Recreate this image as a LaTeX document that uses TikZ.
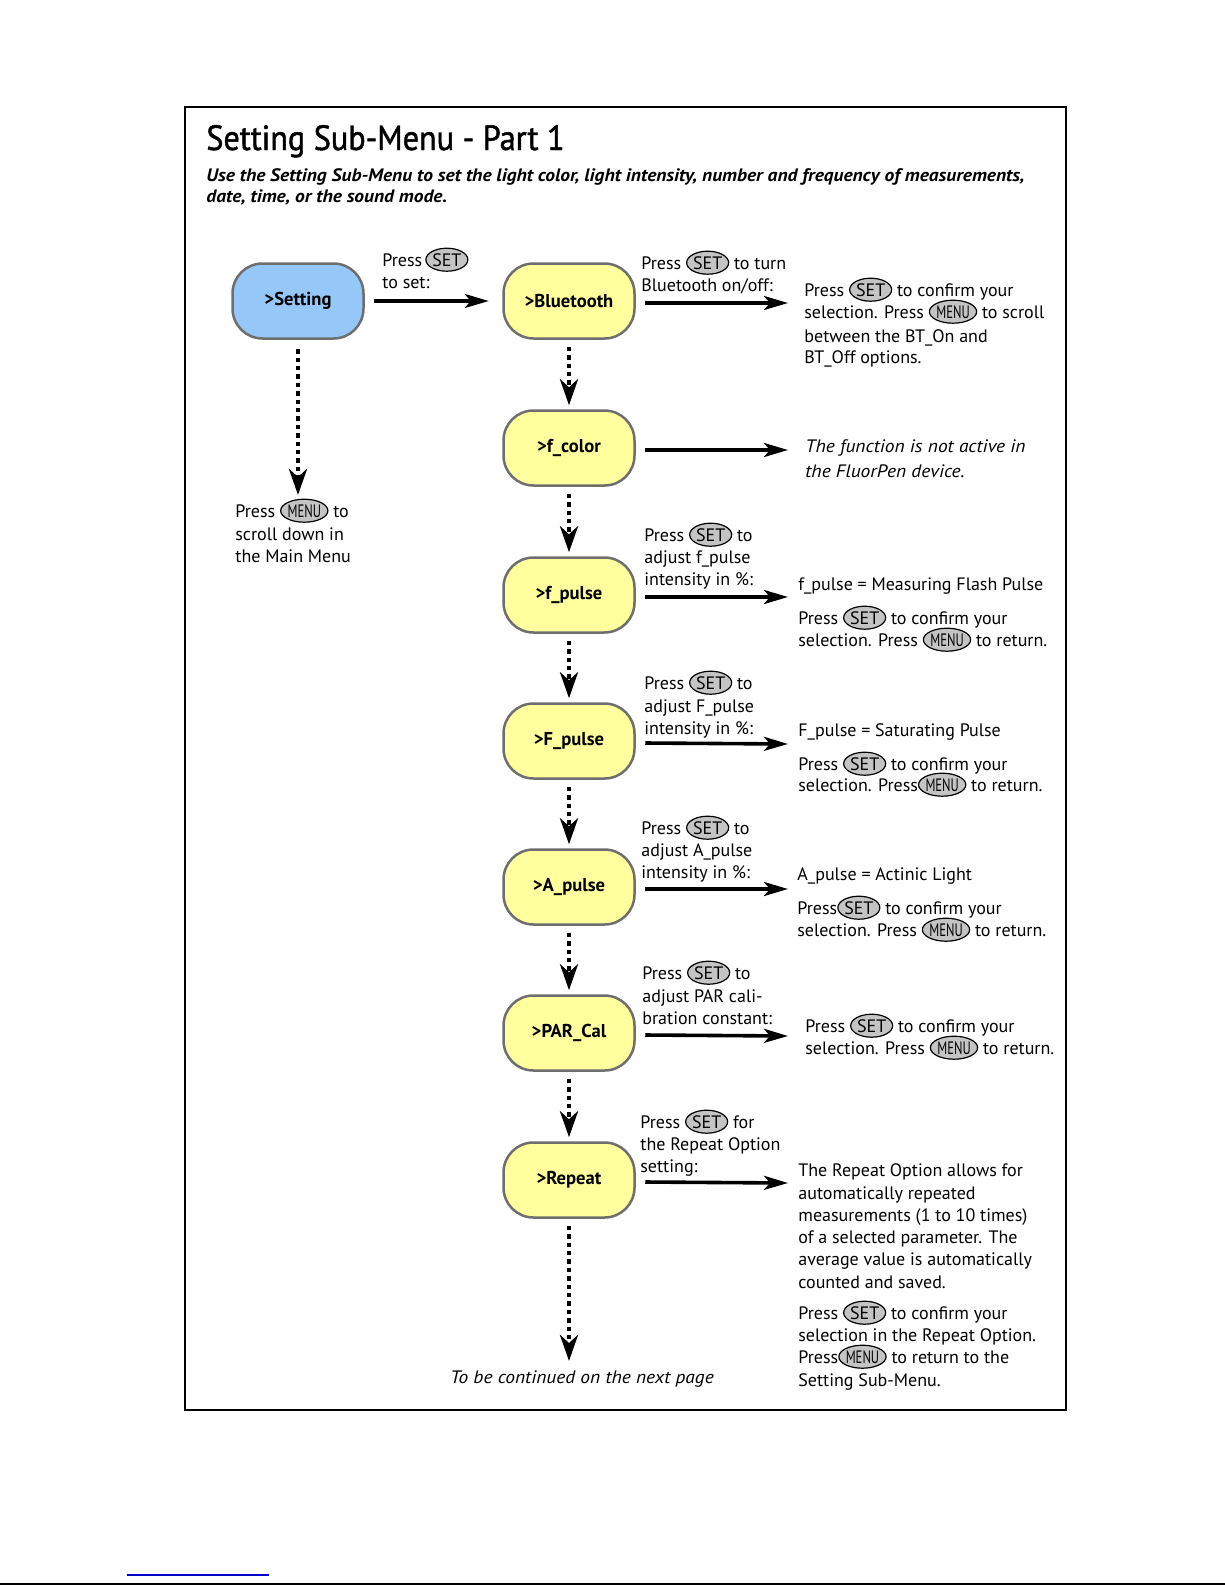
\documentclass[tikz,border=0pt]{standalone}
\usepackage{fontspec}
\usepackage{graphicx}
\setmainfont{PT Sans}
\newfontfamily\titlefont[FakeStretch=0.92,FakeBold=1.3]{PT Sans}
\newfontfamily\widefont[FakeStretch=1.08]{PT Sans}
\usetikzlibrary{arrows.meta,shapes.geometric}
\definecolor{nodeblue}{HTML}{95C8F8}
\definecolor{nodeyellow}{HTML}{FFFF9E}
\definecolor{outlinegray}{HTML}{6E6E6E}
\definecolor{btngray}{HTML}{C4C4C4}
\definecolor{linkblue}{HTML}{0000CC}
\tikzset{
 menunode/.style={rectangle, rounded corners=15pt, draw=outlinegray, line width=1.25pt, minimum width=65.5pt, minimum height=37.5pt, font=\fontsize{9.3}{11}\selectfont\bfseries, inner sep=0pt},
 bluenode/.style={menunode, fill=nodeblue},
 yellownode/.style={menunode, fill=nodeyellow},
 txt/.style={anchor=base west, inner sep=0pt, font=\fontsize{9}{11}\selectfont},
 itxt/.style={txt, font=\widefont\fontsize{9}{11}\selectfont\itshape},
 subtxt/.style={txt, font=\widefont\fontsize{9}{11}\selectfont\bfseries\itshape},
 btn/.style={ellipse, draw=black, line width=0.6pt, fill=btngray, minimum width=21pt, minimum height=11.5pt, inner sep=0pt, anchor=center, font=\fontsize{9}{11}\selectfont},
 harrow/.style={line width=1.8pt, -{Stealth[length=12pt,width=7pt,inset=3pt]}},
 varrow/.style={line width=2.2pt, dash pattern=on 2.2pt off 2pt, -{Stealth[length=13pt,width=9pt,inset=4pt]}},
}
\newcommand\setb{\tikz[baseline=(b.base)]\node[btn](b){SET};}
\newcommand\menub{\tikz[baseline=(b.base)]\node[btn](b){\scalebox{0.7}[1]{MENU}};}
\newcommand\tline[5][txt]{\node[#1] (#2) at (#3,#4) {#5};}
\begin{document}
\begin{tikzpicture}[x=0.5pt,y=-0.5pt]
\useasboundingbox (0,0) rectangle (1225,1585);
% frame
\draw[line width=1pt] (185,107) rectangle (1066,1410);
\node[anchor=base west, inner sep=0pt, font=\titlefont\fontsize{17.5}{20}\selectfont] (title) at (206,150) {Setting Sub-Menu - Part 1};
\tline[subtxt]{sub1}{206}{181}{Use the Setting Sub-Menu to set the light color, light intensity, number and frequency of measurements,}
\tline[subtxt]{sub2}{206}{202}{date, time, or the sound mode.}
% menu nodes
\node[bluenode] (setting) at (298,301) {>Setting};
\node[yellownode] (bt) at (569,301) {>Bluetooth};
\node[yellownode] (fc) at (569,448) {>f\_color};
\node[yellownode] (fp) at (569,595) {>f\_pulse};
\node[yellownode] (Fp) at (569,741) {>F\_pulse};
\node[yellownode] (ap) at (569,887) {>A\_pulse};
\node[yellownode] (par) at (569,1033) {>PAR\_Cal};
\node[yellownode] (rep) at (569,1180) {>Repeat};
% vertical dotted arrows
\coordinate (setting-end) at (298,495);
\coordinate (rep-end) at (569,1361);
\draw[varrow] ([yshift=-4.75pt]setting.south) -- (setting-end);
\draw[varrow] ([yshift=-3.5pt]bt.south) -- ([yshift=2pt]fc.north);
\draw[varrow] ([yshift=-3.5pt]fc.south) -- ([yshift=2pt]fp.north);
\draw[varrow] ([yshift=-3.5pt]fp.south) -- ([yshift=2pt]Fp.north);
\draw[varrow] ([yshift=-3.5pt]Fp.south) -- ([yshift=2pt]ap.north);
\draw[varrow] ([yshift=-3.5pt]ap.south) -- ([yshift=2pt]par.north);
\draw[varrow] ([yshift=-3.5pt]par.south) -- ([yshift=2pt]rep.north);
\draw[varrow] ([yshift=-3.5pt]rep.south) -- (rep-end);
% horizontal arrows
\draw[harrow] ([xshift=4.75pt]setting.east) -- ([xshift=-6.75pt]bt.west);
\coordinate (bt-out) at (788,303);
\coordinate (fc-out) at (788,450);
\coordinate (fp-out) at (788,597);
\coordinate (Fp-out) at (788,744);
\coordinate (ap-out) at (788,889);
\coordinate (par-out) at (788,1036);
\coordinate (rep-out) at (788,1183);
\draw[harrow] ([xshift=4.75pt,yshift=-1pt]bt.east) -- (bt-out);
\draw[harrow] ([xshift=4.75pt,yshift=-1pt]fc.east) -- (fc-out);
\draw[harrow] ([xshift=4.75pt,yshift=-1pt]fp.east) -- (fp-out);
\draw[harrow] ([xshift=4.75pt,yshift=-1pt]Fp.east) -- (Fp-out);
\draw[harrow] ([xshift=4.75pt,yshift=-1pt]ap.east) -- (ap-out);
\draw[harrow] ([xshift=4.75pt,yshift=-1pt]par.east) -- (par-out);
\draw[harrow] ([xshift=4.75pt,yshift=-1pt]rep.east) -- (rep-out);
% texts
\tline{s1}{382}{266}{Press\,\setb}
\tline{s2}{382}{288}{to set:}
\tline{sd1}{235}{517}{Press \menub{} to}
\tline{sd2}{235}{540}{scroll down in}
\tline{sd3}{235}{562}{the Main Menu}
\tline{bl1}{641}{269}{Press \setb{} to turn}
\tline{bl2}{641}{291}{Bluetooth on/off:}
\tline{br1}{804}{296}{Press \setb{} to confirm your}
\tline{br2}{804}{318}{selection. Press \menub{} to scroll}
\tline{br3}{804}{342}{between the BT\_On and}
\tline{br4}{804}{363}{BT\_Off options.}
\tline[itxt]{fcr1}{805}{452}{The function is not active in}
\tline[itxt]{fcr2}{805}{477}{the FluorPen device.}
\tline{fpl1}{644}{541}{Press \setb{} to}
\tline{fpl2}{644}{563}{adjust f\_pulse}
\tline{fpl3}{644}{585}{intensity in \%:}
\tline{fpr1}{798}{590}{f\_pulse = Measuring Flash Pulse}
\tline{fpr2}{798}{624}{Press \setb{} to confirm your}
\tline{fpr3}{798}{646}{selection. Press \menub{} to return.}
\tline{Fpl1}{644}{689}{Press \setb{} to}
\tline{Fpl2}{644}{712}{adjust F\_pulse}
\tline{Fpl3}{644}{734}{intensity in \%:}
\tline{Fpr1}{798}{736}{F\_pulse = Saturating Pulse}
\tline{Fpr2}{798}{770}{Press \setb{} to confirm your}
\tline{Fpr3}{798}{791}{selection. Press\menub{} to return.}
\tline{apl1}{641}{834}{Press \setb{} to}
\tline{apl2}{641}{856}{adjust A\_pulse}
\tline{apl3}{641}{878}{intensity in \%:}
\tline{apr1}{797}{880}{A\_pulse = Actinic Light}
\tline{apr2}{797}{914}{Press\setb{} to confirm your}
\tline{apr3}{797}{936}{selection. Press \menub{} to return.}
\tline{parl1}{642}{979}{Press \setb{} to}
\tline{parl2}{642}{1002}{adjust PAR cali-}
\tline{parl3}{642}{1024}{bration constant:}
\tline{parr1}{805}{1032}{Press \setb{} to confirm your}
\tline{parr2}{805}{1054}{selection. Press \menub{} to return.}
\tline{repl1}{640}{1128}{Press \setb{} for}
\tline{repl2}{640}{1150}{the Repeat Option}
\tline{repl3}{640}{1172}{setting:}
\tline{repr1}{798}{1176}{The Repeat Option allows for}
\tline{repr2}{798}{1199}{automatically repeated}
\tline{repr3}{798}{1221}{measurements (1 to 10 times)}
\tline{repr4}{798}{1243}{of a selected parameter. The}
\tline{repr5}{798}{1265}{average value is automatically}
\tline{repr6}{798}{1288}{counted and saved.}
\tline{repr7}{798}{1319}{Press \setb{} to confirm your}
\tline{repr8}{798}{1341}{selection in the Repeat Option.}
\tline{repr9}{798}{1363}{Press\menub{} to return to the}
\tline{repr10}{798}{1386}{Setting Sub-Menu.}
\tline[itxt]{cont}{450}{1383}{To be continued on the next page}
% page footer lines
\draw[linkblue, line width=1pt] (127,1574.5) -- (269,1574.5);
\draw[black, line width=1pt] (0,1584) -- (1225,1584);
\end{tikzpicture}
\end{document}
